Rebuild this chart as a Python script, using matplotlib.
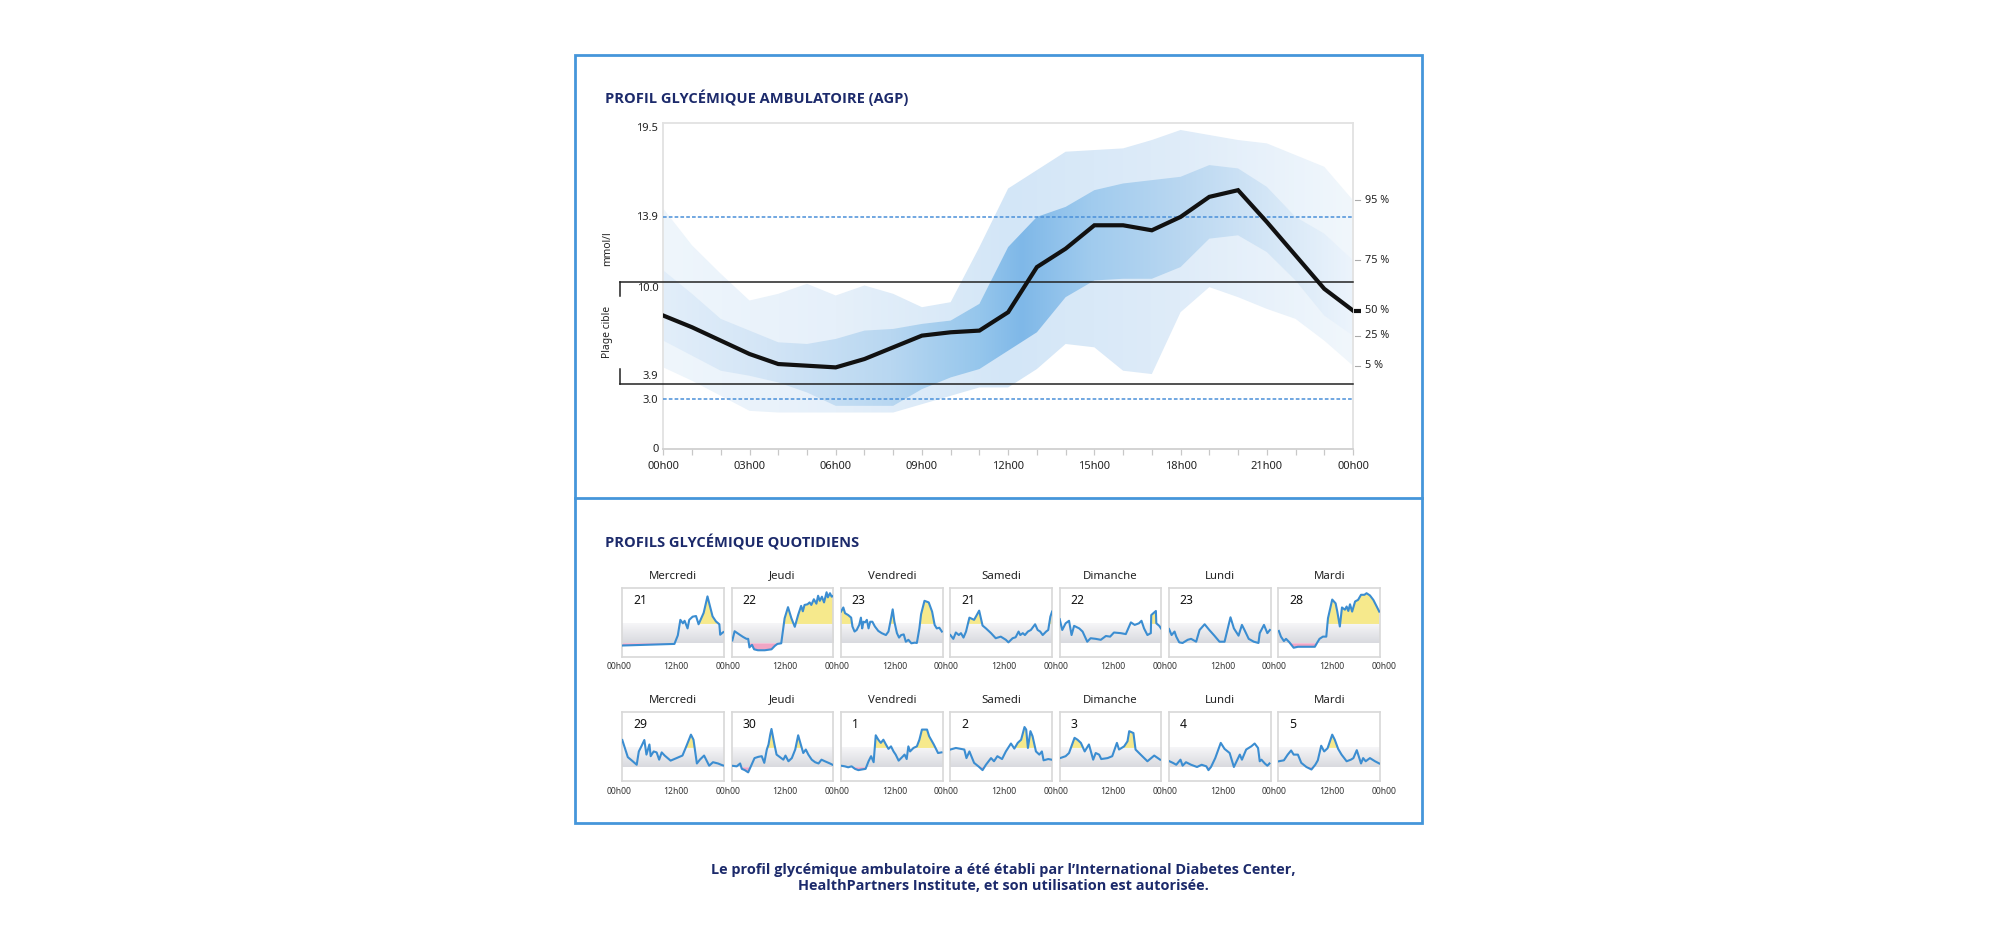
import numpy as np
import matplotlib
matplotlib.use("Agg")
import matplotlib.pyplot as plt
from matplotlib import font_manager as fm
from matplotlib.colors import LinearSegmentedColormap
from matplotlib.patches import Polygon, Rectangle
from matplotlib.lines import Line2D

plt.rcParams['font.family'] = ['Noto Sans', 'DejaVu Sans']

# ------------------------------------------------------------------ data
hours = list(range(25))
p05 = [4.9, 4.1, 3.2, 2.3, 2.2, 2.2, 2.2, 2.2, 2.2, 2.7, 3.2, 3.7, 3.7,
       4.8, 6.3, 6.1, 4.7, 4.5, 8.2, 9.7, 9.1, 8.4, 7.8, 6.5, 5.0]
p25 = [6.5, 5.6, 4.7, 4.4, 4.0, 3.4, 2.6, 2.6, 2.6, 3.6, 4.3, 4.8, 5.9,
       7.0, 9.1, 10.1, 10.2, 10.2, 10.9, 12.6, 12.8, 11.8, 10.1, 8.0, 6.8]
p50 = [8.0, 7.3, 6.5, 5.7, 5.1, 5.0, 4.9, 5.4, 6.1, 6.8, 7.0, 7.1, 8.2,
       10.9, 12.0, 13.4, 13.4, 13.1, 13.9, 15.1, 15.5, 13.6, 11.6, 9.6, 8.3]
p75 = [10.7, 9.3, 7.8, 7.1, 6.4, 6.3, 6.6, 7.1, 7.2, 7.5, 7.7, 8.7, 12.1,
       13.9, 14.5, 15.5, 15.9, 16.1, 16.3, 17.0, 16.8, 15.7, 13.9, 12.9, 11.3]
p95 = [14.4, 12.2, 10.5, 8.9, 9.3, 9.9, 9.2, 9.8, 9.3, 8.5, 8.8, 12.1, 15.6,
       16.7, 17.8, 17.9, 18.0, 18.5, 19.1, 18.8, 18.5, 18.3, 17.6, 16.9, 14.9]

x_tick_labels = ['00h00', '', '', '03h00', '', '', '06h00', '', '', '09h00', '', '',
                 '12h00', '', '', '15h00', '', '', '18h00', '', '', '21h00', '', '', '00h00']
y_labels = ['19.5', '13.9', '10.0', '3.9', '3.0', '0']
pct_labels = ['95 %', '75 %', '50 %', '25 %', '5 %']

target_low, target_high = 3.9, 10.0
very_low, very_high = 3.0, 13.9

day_names = ['Mercredi', 'Jeudi', 'Vendredi', 'Samedi', 'Dimanche', 'Lundi', 'Mardi']
day_dates = ['21', '22', '23', '21', '22', '23', '28', '29', '30', '1', '2', '3', '4', '5']

t_d1 = [0, 12.3, 13.1, 13.7, 14.3, 14.7, 15.4, 15.8, 16.6, 17.4, 18.0, 19.2, 20.1, 21.3, 22.1, 22.9, 23.1, 23.7, 24.0]
v_d1 = [3.2, 3.7, 6.4, 11.3, 10.2, 11.0, 8.6, 11.3, 12.3, 12.5, 9.9, 13.5, 18.7, 12.4, 10.8, 9.9, 6.6, 7.3, 7.5]

t_d2 = [0.16, 0.7, 1.9, 2.7, 3.5, 3.9, 4.2, 4.8, 5.3, 6.2, 7.8, 9.4, 10.2, 10.8, 11.7, 12.5, 13.3, 14.1, 14.9,
        15.7, 16.4, 16.8, 17.2, 17.9, 18.4, 18.8, 19.4, 20.0, 20.4, 20.8, 21.3, 21.8, 22.4, 22.7, 23.2, 23.6, 24.0]
v_d2 = [4.8, 7.7, 6.6, 5.9, 5.3, 5.3, 2.6, 3.4, 2.0, 1.7, 1.7, 2.0, 3.1, 3.7, 3.9, 11.8, 15.3, 11.8, 9.1,
        12.9, 15.7, 14.0, 16.0, 16.2, 16.8, 16.0, 17.8, 16.4, 18.9, 17.3, 18.6, 16.8, 20.0, 18.4, 19.7, 18.6, 18.9]

t_d3 = [0, 0.55, 0.95, 1.7, 2.4, 2.7, 3.2, 3.7, 4.3, 4.7, 5.0, 5.3, 5.7, 6.1, 6.5, 6.9, 7.4, 8.0, 8.8, 9.6,
        10.6, 11.2, 11.7, 12.2, 12.6, 13.2, 13.7, 14.2, 14.8, 15.3, 15.9, 16.6, 17.4, 17.9, 18.5, 18.9, 19.7,
        20.7, 21.5, 22.1, 22.6, 23.2, 23.8]
v_d3 = [13.9, 15.2, 13.4, 12.8, 12.0, 9.2, 7.6, 8.1, 9.7, 12.0, 8.6, 10.7, 10.5, 11.3, 8.6, 10.7, 10.7, 9.2, 7.8, 7.1,
        6.5, 7.6, 11.0, 14.6, 10.7, 7.1, 5.7, 6.5, 6.7, 4.4, 5.0, 3.9, 4.1, 4.0, 8.6, 13.1, 17.3,
        16.8, 13.9, 9.7, 8.6, 8.8, 7.6]

t_d4 = [0, 0.7, 1.3, 2.0, 2.5, 3.1, 3.7, 4.5, 5.6, 6.8, 7.6, 8.4, 9.6, 10.7, 11.9, 13.1, 13.7, 14.7, 15.4, 16.1,
        16.5, 17.1, 17.6, 18.3, 19.0, 20.0, 20.6, 21.2, 21.8, 22.6, 23.1, 23.6, 24.0]
v_d4 = [6.5, 5.3, 7.3, 6.5, 7.1, 5.7, 7.6, 12.0, 11.3, 14.2, 9.5, 8.6, 7.1, 5.5, 6.0, 5.0, 4.2, 5.5, 5.8, 7.6,
        6.5, 7.1, 6.5, 7.6, 8.1, 9.9, 8.1, 7.6, 6.5, 7.6, 8.1, 12.3, 13.9]

t_d5 = [0.0, 0.6, 1.4, 2.2, 2.8, 3.4, 4.6, 5.4, 6.5, 7.3, 8.5, 9.7, 10.9, 11.9, 12.8, 14.4, 15.6, 16.8, 17.7, 18.7,
        19.3, 19.9, 20.7, 21.5, 21.6, 22.7, 22.8, 23.5, 23.9]
v_d5 = [11.5, 8.1, 10.2, 11.0, 6.5, 9.4, 8.6, 7.6, 4.4, 5.5, 5.3, 5.0, 6.2, 6.0, 7.3, 7.1, 6.8, 10.5, 9.7, 10.2,
        11.0, 8.6, 6.5, 7.1, 12.8, 14.1, 10.2, 9.4, 8.6]

t_d6 = [0.0, 0.6, 1.3, 1.7, 2.4, 3.2, 4.4, 5.2, 6.4, 7.2, 8.4, 9.5, 10.7, 11.9, 13.1, 14.5, 15.3, 16.4, 17.2, 17.8,
        18.8, 20.0, 21.1, 21.4, 22.4, 23.2, 23.8]
v_d6 = [8.4, 6.5, 7.6, 6.0, 4.2, 4.0, 5.0, 5.3, 4.4, 8.1, 9.9, 8.1, 6.3, 4.4, 4.4, 12.1, 8.6, 6.3, 9.7, 8.1,
        5.3, 4.4, 4.0, 7.1, 9.7, 7.1, 8.1]

t_d7 = [0.1, 0.6, 1.3, 1.8, 2.6, 3.6, 4.6, 6.2, 8.6, 9.2, 9.7, 10.5, 11.3, 11.7, 12.7, 13.5, 13.9, 14.5, 15.0, 15.7,
        16.1, 16.5, 16.9, 17.4, 18.1, 18.8, 19.5, 20.3, 20.8, 21.6, 22.4, 23.2, 23.8]
v_d7 = [7.8, 6.0, 4.6, 5.3, 4.2, 2.5, 2.8, 2.8, 2.8, 4.2, 5.3, 6.0, 6.0, 11.8, 17.7, 16.5, 13.9, 9.2, 15.2, 14.5,
        15.5, 14.1, 16.2, 13.9, 17.1, 17.6, 19.2, 19.2, 19.7, 19.0, 17.6, 15.5, 13.9]

t_d8 = [0, 0.6, 1.3, 2.2, 3.4, 3.9, 4.5, 5.2, 5.7, 6.4, 6.7, 7.4, 8.1, 8.7, 9.3, 10.0, 11.4, 12.8, 14.2, 15.1,
        16.2, 16.8, 17.6, 18.3, 19.3, 20.5, 21.4, 22.6, 23.5, 24.0]
v_d8 = [12.5, 10.0, 7.1, 6.1, 4.7, 8.9, 10.5, 12.5, 7.9, 11.1, 7.4, 8.9, 8.6, 6.3, 8.6, 7.6, 6.0, 6.8, 7.6, 10.5,
        14.2, 12.6, 5.1, 6.3, 7.6, 4.4, 5.5, 5.1, 4.6, 4.4]

t_d9 = [0, 1.2, 2.0, 2.4, 3.1, 3.9, 4.7, 5.4, 6.3, 7.1, 7.7, 8.3, 8.7, 9.1, 9.4, 10.1, 10.6, 11.4, 12.2, 12.7,
        13.4, 14.2, 15.0, 15.7, 16.4, 16.9, 17.5, 18.1, 18.9, 19.7, 20.5, 21.2, 22.0, 23.2, 23.8]
v_d9 = [4.4, 4.2, 5.1, 3.4, 3.0, 2.3, 4.7, 6.8, 7.2, 7.4, 5.3, 9.5, 11.1, 14.2, 16.0, 11.1, 7.9, 7.1, 6.3, 7.6,
        5.8, 6.8, 9.5, 14.0, 10.7, 8.4, 9.5, 7.9, 6.3, 5.5, 5.1, 6.3, 5.8, 5.1, 4.7]

t_d10 = [0, 0.9, 1.7, 2.5, 3.3, 4.1, 4.9, 5.8, 6.5, 7.1, 7.7, 8.2, 8.8, 9.4, 10.0, 10.6, 11.2, 11.8, 12.4, 12.9,
         13.6, 14.2, 15.0, 15.5, 15.9, 16.3, 17.1, 17.9, 18.5, 19.1, 20.3, 20.8, 21.9, 22.9, 23.7]
v_d10 = [4.4, 4.2, 3.9, 4.2, 3.4, 3.0, 3.2, 3.4, 5.8, 7.4, 5.5, 14.0, 12.6, 11.6, 12.6, 11.1, 9.7, 10.5, 8.9, 7.9,
         6.0, 6.8, 7.9, 6.5, 10.5, 8.9, 10.0, 10.5, 12.6, 15.8, 15.8, 13.7, 11.1, 8.4, 8.6]

t_d11 = [0, 1.3, 2.5, 3.3, 3.8, 4.5, 5.6, 6.8, 7.6, 8.4, 9.6, 10.3, 11.1, 12.2, 13.1, 14.3, 15.1, 15.9, 16.7, 17.5,
         17.9, 18.3, 18.9, 19.4, 20.2, 21.0, 21.6, 22.0, 23.1, 23.9]
v_d11 = [9.5, 10.0, 9.7, 9.5, 6.8, 8.9, 5.3, 4.0, 3.0, 4.7, 6.8, 5.8, 7.4, 6.5, 8.9, 11.4, 9.8, 11.6, 12.6, 16.6,
         15.8, 10.0, 15.3, 13.7, 8.9, 7.9, 8.9, 6.1, 6.5, 6.3]

t_d12 = [0.1, 1.4, 2.2, 3.5, 4.2, 5.0, 5.9, 6.9, 7.9, 8.5, 9.3, 9.8, 11.3, 12.4, 13.5, 14.0, 15.2, 16.0, 16.4, 16.9,
         17.4, 17.9, 19.1, 20.7, 22.3, 23.7]
v_d12 = [6.8, 7.4, 8.4, 13.2, 12.6, 11.6, 8.9, 11.1, 6.3, 8.4, 7.9, 6.5, 6.8, 7.4, 11.6, 9.5, 10.5, 12.1, 15.3, 15.0,
         14.7, 9.5, 7.9, 5.8, 7.6, 6.3]

t_d13 = [0.1, 0.9, 1.7, 2.7, 3.2, 4.0, 5.2, 6.6, 7.7, 8.8, 9.3, 9.9, 10.9, 12.2, 13.1, 14.3, 15.3, 16.7, 17.2, 18.2,
         19.4, 20.2, 21.0, 21.4, 21.8, 22.6, 23.2, 23.7]
v_d13 = [5.8, 5.3, 4.7, 6.3, 4.4, 5.5, 4.7, 4.0, 4.7, 4.2, 3.0, 4.0, 6.8, 11.6, 9.7, 8.4, 4.0, 7.9, 6.3, 9.5,
         10.5, 11.4, 10.0, 5.8, 6.3, 5.1, 4.4, 5.1]

t_d14 = [0.1, 1.3, 2.2, 3.0, 3.6, 4.6, 5.4, 6.6, 7.8, 8.7, 9.3, 10.1, 10.8, 11.6, 12.7, 13.3, 14.1, 14.9, 16.1, 17.1,
         17.7, 18.5, 19.5, 20.0, 20.6, 21.6, 22.8, 23.8]
v_d14 = [5.8, 6.1, 7.9, 9.2, 7.9, 7.9, 5.3, 4.0, 3.2, 4.7, 6.1, 10.7, 8.9, 9.9, 14.2, 12.6, 9.7, 7.9, 5.8, 6.3,
         6.8, 9.3, 5.1, 6.8, 5.8, 6.8, 5.8, 5.1]

daily_t = [t_d1, t_d2, t_d3, t_d4, t_d5, t_d6, t_d7, t_d8, t_d9, t_d10, t_d11, t_d12, t_d13, t_d14]
daily_v = [v_d1, v_d2, v_d3, v_d4, v_d5, v_d6, v_d7, v_d8, v_d9, v_d10, v_d11, v_d12, v_d13, v_d14]

title_agp = 'PROFIL GLYCÉMIQUE AMBULATOIRE (AGP)'
title_daily = 'PROFILS GLYCÉMIQUE QUOTIDIENS'
footer_1 = 'Le profil glycémique ambulatoire a été établi par l’International Diabetes Center,'
footer_2 = 'HealthPartners Institute, et son utilisation est autorisée.'


# ------------------------------------------------------------------ fonts
def has_bold(name):
    for f in fm.fontManager.ttflist:
        if f.name != name:
            continue
        w = f.weight
        if isinstance(w, str):
            if w.lower() in ('bold', 'semibold', 'demibold', 'demi', 'heavy', 'extra bold', 'black', 'ultrabold'):
                return True
        elif w >= 600:
            return True
    return False


BOLD_FAM = 'DejaVu Sans'
for cand in ('Open Sans', 'Noto Sans', 'Lato', 'Roboto', 'Liberation Sans'):
    if has_bold(cand):
        BOLD_FAM = cand
        break
BOLD = [BOLD_FAM, 'DejaVu Sans']

# ------------------------------------------------------------------ figure
W, H = 2000, 938
fig = plt.figure(figsize=(W / 100, H / 100), dpi=100)
fig.patch.set_facecolor('white')


def fx(px):
    return px / W


def fy(py):
    return 1 - py / H


NAVY = '#1c2a6b'
FRAME = '#4596da'
TXT = '#222222'

renderer = fig.canvas.get_renderer()


def fit(t, target_w):
    w = t.get_window_extent(renderer).width
    t.set_fontsize(t.get_fontsize() * target_w / w)


# outer frame and divider
fig.add_artist(Rectangle((fx(575.3), fy(822.7)), (1421.7 - 575.3) / W, (822.7 - 55.3) / H,
                         transform=fig.transFigure, fill=False, edgecolor=FRAME, lw=2.0))
fig.add_artist(Line2D([fx(575.3), fx(1421.7)], [fy(497.7), fy(497.7)],
                      transform=fig.transFigure, color=FRAME, lw=2.0))

t1 = fig.text(fx(605), fy(97.5), title_agp, fontsize=11, weight='bold', family=BOLD, color=NAVY,
              ha='left', va='center')
fit(t1, 301)
t2 = fig.text(fx(605), fy(543), title_daily, fontsize=11, weight='bold', family=BOLD, color=NAVY,
              ha='left', va='center')
fit(t2, 252)

f1 = fig.text(fx(1003), fy(870), footer_1, fontsize=10, weight='bold', family=BOLD, color=NAVY,
              ha='center', va='center')
fit(f1, 586)
f2 = fig.text(fx(1003), fy(886), footer_2, fontsize=f1.get_fontsize(), weight='bold', family=BOLD,
              color=NAVY, ha='center', va='center')

# ------------------------------------------------------------------ AGP
ax = fig.add_axes([fx(663.3), fy(449.3), (1353 - 663.3) / W, (449.3 - 123.3) / H])

outer_cmap = LinearSegmentedColormap.from_list('outer', [
    (0.0, '#eff6fc'), (0.25, '#e6f0fa'), (0.5, '#d3e6f7'), (0.75, '#dfecf9'), (1.0, '#f1f7fc')])
inner_cmap = LinearSegmentedColormap.from_list('inner', [
    (0.0, '#e2eefa'), (0.15, '#d3e5f6'), (0.33, '#b8d7f1'), (0.46, '#95c6ec'), (0.52, '#7fb8e8'),
    (0.62, '#a0cbee'), (0.75, '#b9d7f1'), (0.87, '#d2e5f6'), (1.0, '#ecf4fc')])


def gradient_band(lo, hi, cmap, z):
    verts = list(zip(hours, hi)) + list(zip(hours[::-1], lo[::-1]))
    poly = Polygon(verts, closed=True, facecolor='none', edgecolor='none', transform=ax.transData)
    ax.add_patch(poly)
    grad = np.linspace(0, 1, 256).reshape(1, -1)
    im = ax.imshow(grad, extent=[0, 24, 0, 19.5], aspect='auto', cmap=cmap, origin='lower',
                   interpolation='bilinear', zorder=z)
    im.set_clip_path(poly)


gradient_band(p05, p95, outer_cmap, 1)
gradient_band(p25, p75, inner_cmap, 2)

ax.axhline(very_high, color='#4a90d9', lw=1.1, ls=(0, (2.4, 1.4)), zorder=4)
ax.axhline(very_low, color='#4a90d9', lw=1.1, ls=(0, (2.4, 1.4)), zorder=4)

ytr = ax.get_yaxis_transform()
br_x = (620 - 663.3) / 689.7
for yv in (target_high, target_low):
    ax.plot([br_x, 1.0], [yv, yv], transform=ytr, color='#222222', lw=1.1, clip_on=False, zorder=4)
ax.plot([br_x, br_x], [target_high, target_high - 0.84], transform=ytr, color='#222222', lw=1.1,
        clip_on=False)
ax.plot([br_x, br_x], [target_low, target_low + 0.9], transform=ytr, color='#222222', lw=1.1,
        clip_on=False)

ax.plot(hours, p50, color='#111111', lw=3.0, zorder=6, solid_joinstyle='miter')

ax.set_xlim(0, 24)
ax.set_ylim(0, 19.5)
ax.set_xticks(hours)
ax.set_xticklabels(x_tick_labels)
ax.tick_params(axis='x', length=4.3, width=0.9, color='#c8c8c8', pad=4.2, labelsize=8.0, labelcolor=TXT)
ax.set_yticks([])
for s in ('left', 'top', 'right'):
    ax.spines[s].set_color('#e2e2e2')
    ax.spines[s].set_linewidth(1.3)
ax.spines['bottom'].set_color('#d0d0d0')
ax.spines['bottom'].set_linewidth(1.3)

ylab_pos = [19.2, 13.85, 9.63, 4.34, 2.9, 0.0]
for lab, pos in zip(y_labels, ylab_pos):
    ax.text(-0.0073, pos, lab, transform=ytr, ha='right', va='center', fontsize=8.0, color=TXT)

ax.text((607.3 - 663.3) / 689.7, 12.0, 'mmol/l', transform=ytr, rotation=90, ha='center', va='center',
        fontsize=7.4, color=TXT)
ax.text((607.3 - 663.3) / 689.7, 7.0, 'Plage cible', transform=ytr, rotation=90, ha='center', va='center',
        fontsize=7.4, color=TXT)

ends = [p95[-1], p75[-1], p50[-1], p25[-1], p05[-1]]
for lab, val in zip(pct_labels, ends):
    if lab.startswith('50'):
        ax.plot([1.0, 1.012], [val, val], transform=ytr, color='#111111', lw=3.0, clip_on=False,
                solid_capstyle='butt')
    else:
        ax.plot([1.0026, 1.0098], [val, val], transform=ytr, color='#aaaaaa', lw=0.8, clip_on=False)
    ax.text(1.0174, val, lab, transform=ytr, ha='left', va='center', fontsize=7.8, color=TXT)

# ------------------------------------------------------------------ daily profiles
band_cmap = LinearSegmentedColormap.from_list('band', ['#d9dadf', '#f6f6f8'])
box_left0, pitch, box_w, box_h = 622.3, 109.35, 101.7, 69.0
row_tops = [588.3, 712.3]
title_y = [576, 700]
tick_y = [666.5, 791]


def high_mask(v, hi, peak):
    v = np.asarray(v)
    m = np.zeros(len(v), bool)
    i = 0
    while i < len(v):
        if v[i] > hi:
            j = i
            while j < len(v) and v[j] > hi:
                j += 1
            if v[i:j].max() > peak:
                m[i:j] = True
            i = j
        else:
            i += 1
    return m


for k, (tt, vv) in enumerate(zip(daily_t, daily_v)):
    row, col = divmod(k, 7)
    left = box_left0 + col * pitch
    top = row_tops[row]
    a = fig.add_axes([fx(left), fy(top + box_h), box_w / W, box_h / H])
    tt = np.asarray(tt, float)
    vv = np.asarray(vv, float)
    a.imshow(np.linspace(0, 1, 64).reshape(-1, 1), extent=[0, 24, target_low, target_high], aspect='auto',
             cmap=band_cmap, origin='lower', zorder=0)
    a.fill_between(tt, vv, target_high, where=high_mask(vv, target_high, 12.8), interpolate=True,
                   facecolor='#f6e98c', edgecolor='none', zorder=1)
    a.fill_between(tt, vv, target_low, where=vv < target_low, interpolate=True,
                   facecolor='#f0a6c4', edgecolor='none', zorder=1)
    a.plot(tt, vv, color='#3b8dd1', lw=1.5, zorder=3)
    a.set_xlim(0, 24)
    a.set_ylim(-0.52, 21.25)
    a.set_xticks([])
    a.set_yticks([])
    for s in a.spines.values():
        s.set_color('#d8d8d8')
        s.set_linewidth(1.2)
    a.text(0.105, 0.826, day_dates[k], transform=a.transAxes, ha='left', va='center', fontsize=8.8,
           color='#111111')
    fig.text(fx(left + box_w / 2), fy(title_y[row]), day_names[col], ha='center', va='center',
             fontsize=8.2, color=TXT)
    if col == 0:
        fig.text(fx(left - 3), fy(tick_y[row]), '00h00', ha='center', va='center', fontsize=6.2, color='#333333')
    fig.text(fx(left + box_w / 2 + 2.5), fy(tick_y[row]), '12h00', ha='center', va='center', fontsize=6.2,
             color='#333333')
    fig.text(fx(left + box_w + 3.6), fy(tick_y[row]), '00h00', ha='center', va='center', fontsize=6.2,
             color='#333333')

fig.savefig('out.png', dpi=100, facecolor='white')
